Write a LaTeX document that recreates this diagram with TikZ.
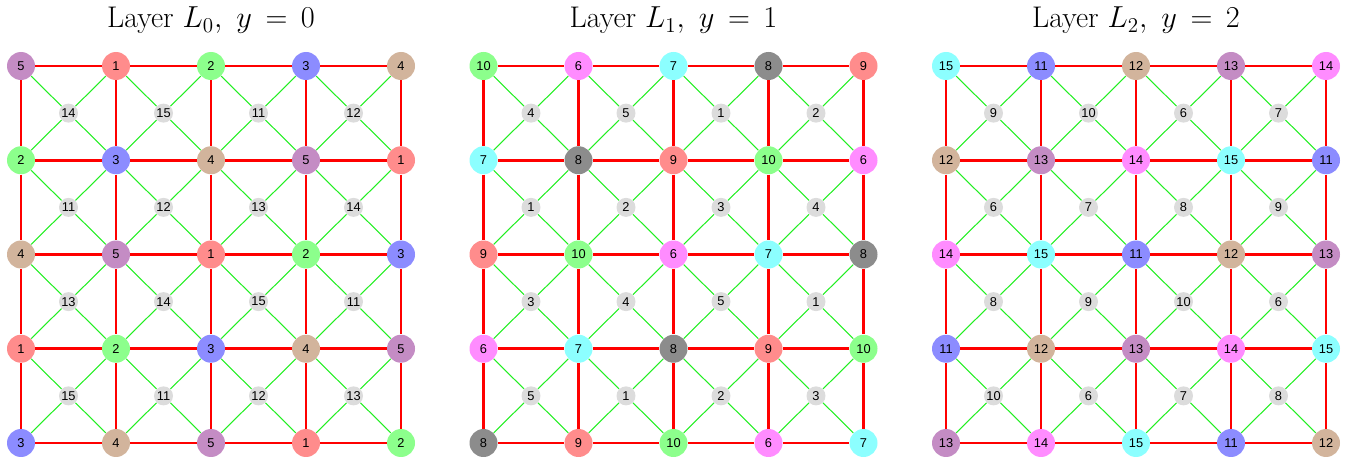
\documentclass[tikz,border=0pt]{standalone}
\usepackage{fontspec}
\newfontfamily\numfont{Liberation Sans}
\usetikzlibrary{positioning}
\definecolor{c0}{HTML}{FF8C8C}
\definecolor{c1}{HTML}{8CFF8C}
\definecolor{c2}{HTML}{8C8CFF}
\definecolor{c3}{HTML}{D2B49C}
\definecolor{c4}{HTML}{C48CC4}
\definecolor{c5}{HTML}{FF8CFF}
\definecolor{c6}{HTML}{8CFFFF}
\definecolor{c7}{HTML}{8C8C8C}
\definecolor{mid}{HTML}{DCDCDC}
\definecolor{diag}{HTML}{22EE22}
\begin{document}
\begin{tikzpicture}[x=0.02cm, y=-0.02cm,
    site/.style={circle, inner sep=0pt, minimum size=0.56cm,
                 font=\numfont\fontsize{7.3}{8.5}\selectfont},
    cell/.style={site, fill=mid, minimum size=0.38cm},
    title/.style={anchor=base, font=\fontsize{17}{20}\selectfont},
    bond/.style={red, line width=1.5pt},
    link/.style={diag, line width=0.6pt}]
  \useasboundingbox (0,0) rectangle (1348,462);
  \foreach \L in {0,1,2} {
    \pgfmathsetmacro{\ox}{21+462.5*\L}
    \node[title] (t\L) at (\ox+190,28) {Layer $L_{\L},\ y\,=\,\L$};
    % lattice sites
    \foreach \row [count=\r from 0] in {{5,1,2,3,4},{2,3,4,5,1},{4,5,1,2,3},{1,2,3,4,5},{3,4,5,1,2}} {
      \foreach \v [count=\c from 0] in \row {
        \pgfmathtruncatemacro{\n}{\v+5*\L}
        \pgfmathtruncatemacro{\k}{mod(\n-1,8)}
        \node[site, fill=c\k] (s\L-\c-\r) at (\ox+95*\c,66+94.25*\r) {\n};
      }
    }
    % cell centres
    \foreach \row [count=\r from 0] in {{4,5,1,2},{1,2,3,4},{3,4,5,1},{5,1,2,3}} {
      \foreach \v [count=\c from 0] in \row {
        \pgfmathtruncatemacro{\n}{\v+5*mod(\L+2,3)}
        \node[cell] (m\L-\c-\r) at (\ox+95*\c+47.5,66+94.25*\r+47.125) {\n};
      }
    }
    \foreach \r in {0,...,4} {
      \foreach \c [evaluate=\c as \cc using int(\c+1)] in {0,...,3} {
        \draw[bond] (s\L-\c-\r) -- (s\L-\cc-\r);
        \draw[bond] (s\L-\r-\c) -- (s\L-\r-\cc);
      }
    }
    \foreach \r [evaluate=\r as \rr using int(\r+1)] in {0,...,3} {
      \foreach \c [evaluate=\c as \cc using int(\c+1)] in {0,...,3} {
        \draw[link] (m\L-\c-\r) -- (s\L-\c-\r);
        \draw[link] (m\L-\c-\r) -- (s\L-\cc-\r);
        \draw[link] (m\L-\c-\r) -- (s\L-\c-\rr);
        \draw[link] (m\L-\c-\r) -- (s\L-\cc-\rr);
      }
    }
  }
\end{tikzpicture}
\end{document}
